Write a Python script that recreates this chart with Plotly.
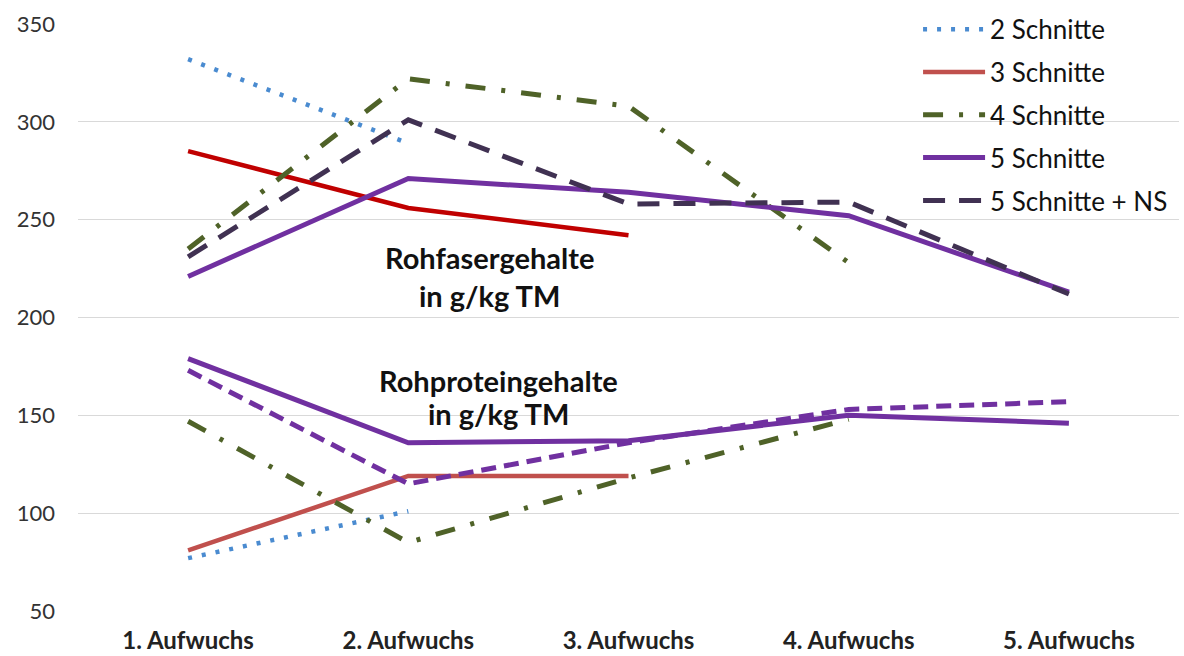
import plotly.graph_objects as go

# Categories (cuts / growths)
aufwuchs = ["1. Aufwuchs", "2. Aufwuchs", "3. Aufwuchs", "4. Aufwuchs", "5. Aufwuchs"]

# Crude fibre content (g/kg TM)
rf_2_schnitte = [332, 289, None, None, None]
rf_3_schnitte = [285, 256, 242, None, None]
rf_4_schnitte = [235, 322, 308, 228, None]
rf_5_schnitte = [221, 271, 264, 252, 213]
rf_5_schnitte_ns = [231, 301, 258, 259, 212]

# Crude protein content (g/kg TM)
rp_2_schnitte = [77, 101, None, None, None]
rp_3_schnitte = [81, 119, 119, None, None]
rp_4_schnitte = [147, 85, 118, 148, None]
rp_5_schnitte = [179, 136, 137, 150, 146]
rp_5_schnitte_ns = [173, 115, 136, 153, 157]

y_ticks = [50, 100, 150, 200, 250, 300, 350]

FONT = "Lato"
BLUE = "#4A8BD0"
RED_DARK = "#C00000"
RED = "#C0504D"
GREEN = "#4F6228"
PURPLE = "#7030A0"
PURPLE_DARK = "#403152"

DOT = "4px,10px"
DASHDOT = "20px,16px,4px,16px"
DASH_NS = "22px,14px"
DASH_SHORT = "15px,8px"


def line(y, name, color, width, dash="solid", legend=False):
    return go.Scatter(
        x=aufwuchs, y=y, name=name, mode="lines",
        line=dict(color=color, width=width, dash=dash),
        showlegend=legend, legendgroup=name if legend else None,
        connectgaps=False, hoverinfo="skip",
    )


fig = go.Figure()

# Protein series
fig.add_trace(line(rp_2_schnitte, "2 Schnitte", BLUE, 4.5, DOT))
fig.add_trace(line(rp_3_schnitte, "3 Schnitte", RED, 4.5))
fig.add_trace(line(rp_4_schnitte, "4 Schnitte", GREEN, 5, DASHDOT))
fig.add_trace(line(rp_5_schnitte_ns, "5 Schnitte + NS", PURPLE, 5, DASH_SHORT))
fig.add_trace(line(rp_5_schnitte, "5 Schnitte", PURPLE, 5))

# Fibre series (these carry the legend entries)
fig.add_trace(line(rf_2_schnitte, "2 Schnitte", BLUE, 4.5, DOT, legend=True))
fig.add_trace(line(rf_3_schnitte, "3 Schnitte", RED_DARK, 4.5))
fig.add_trace(line(rf_4_schnitte, "4 Schnitte", GREEN, 5, DASHDOT, legend=True))
fig.add_trace(line(rf_5_schnitte, "5 Schnitte", PURPLE, 5, legend=True))
fig.add_trace(line(rf_5_schnitte_ns, "5 Schnitte + NS", PURPLE_DARK, 5, DASH_NS, legend=True))

# Legend-only entry for "3 Schnitte" in the protein red
fig.add_trace(go.Scatter(
    x=[None], y=[None], name="3 Schnitte", mode="lines",
    line=dict(color=RED, width=4.5), showlegend=True, legendgroup="3 Schnitte",
))

order = {"2 Schnitte": 1, "3 Schnitte": 2, "4 Schnitte": 3, "5 Schnitte": 4, "5 Schnitte + NS": 5}
for tr in fig.data:
    tr.legendrank = order[tr.name]

label_font = dict(family=FONT, size=29, color="#111111", weight="bold")
labels = [
    (1.37, 230.5, "Rohfasergehalte"),
    (1.37, 211.5, "in g/kg TM"),
    (1.41, 168.0, "Rohproteingehalte"),
    (1.41, 151.0, "in g/kg TM"),
]
for x, y, t in labels:
    fig.add_annotation(x=x, y=y, text=t, showarrow=False, font=label_font,
                       xanchor="center", yanchor="middle")

fig.update_layout(
    width=1184, height=656,
    margin=dict(l=78, r=5, t=24, b=45, autoexpand=False),
    paper_bgcolor="white", plot_bgcolor="white",
    font=dict(family=FONT, color="#222222"),
    legend=dict(
        x=0.763, y=1.031, xanchor="left", yanchor="top",
        font=dict(family=FONT, size=26, color="#111111"),
        bgcolor="rgba(255,255,255,0)", tracegroupgap=6,
        itemwidth=62,
    ),
    xaxis=dict(
        range=[-0.5, 4.5],
        showgrid=False, showline=False, zeroline=False, ticks="",
        tickfont=dict(family=FONT, size=24, color="#222222", weight="bold"),
        ticklabelstandoff=13,
    ),
    yaxis=dict(
        range=[50, 350], tickvals=y_ticks, showgrid=True, gridcolor="#D9D9D9",
        gridwidth=1.2, zeroline=False, showline=False, ticks="",
        tickfont=dict(family=FONT, size=22, color="#333333"),
        ticklabelstandoff=22,
    ),
)

fig.write_html("out.html")
